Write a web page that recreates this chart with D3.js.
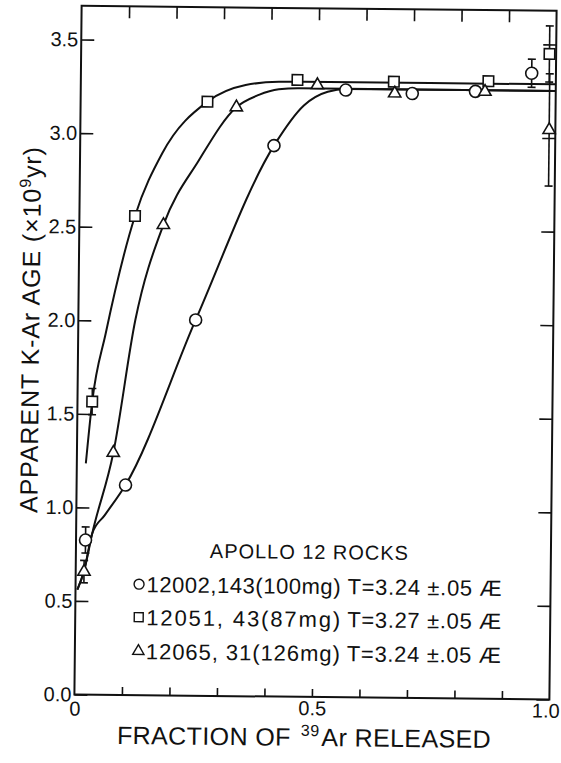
<!DOCTYPE html>
<html>
<head>
<meta charset="utf-8">
<script src="https://cdn.jsdelivr.net/npm/d3@7"></script>
<style>
  body { margin: 0; background: #fff; }
</style>
</head>
<body>
<div id="chart"></div>
<script>
// Values (fraction of 39Ar released, apparent age in 1e9 yr)
const circleFrac = [0.020, 0.103, 0.247, 0.408, 0.558, 0.698, 0.831, 0.949];
const circleAge  = [0.826, 1.122, 2.008, 2.944, 3.245, 3.230, 3.245, 3.345];
const circleErr  = [0.07, 0, 0, 0, 0, 0, 0, 0.075];

const squareFrac = [0.031, 0.117, 0.267, 0.456, 0.659, 0.858, 0.986];
const squareAge  = [1.566, 2.560, 3.175, 3.296, 3.292, 3.300, 3.449];
const squareErr  = [0.07, 0, 0, 0, 0, 0, 0.15];

const triangleFrac = [0.0175, 0.0766, 0.177, 0.328, 0.498, 0.661, 0.851, 0.987];
const triangleAge  = [0.657, 1.294, 2.514, 3.147, 3.270, 3.230, 3.244, 3.043];
const triangleErr  = [0.06, 0, 0, 0, 0, 0, 0, 0.3];

// hand drawn curves
const circleCurve = [[0.004, 0.56], [0.0175, 0.66], [0.034, 0.862], [0.06, 0.96], [0.103, 1.122],
  [0.247, 2.008], [0.408, 2.944], [0.47, 3.16], [0.52, 3.235], [0.56, 3.25], [1.0, 3.252]];
const triangleCurve = [[0.004, 0.56], [0.0175, 0.66], [0.034, 0.862], [0.0766, 1.294], [0.12, 2.004],
  [0.177, 2.514], [0.25, 2.86], [0.328, 3.147], [0.375, 3.214], [0.417, 3.245], [0.46, 3.252], [1.0, 3.252]];
const squareCurve = [[0.019, 1.236], [0.031, 1.566], [0.058, 1.932], [0.117, 2.56], [0.173, 2.897],
  [0.267, 3.175], [0.347, 3.266], [0.417, 3.285], [0.47, 3.287], [1.0, 3.287]];

const yTicks = [0, 0.5, 1.0, 1.5, 2.0, 2.5, 3.0, 3.5];
const xMinorTicks = [0.1, 0.2, 0.3, 0.4, 0.5, 0.6, 0.7, 0.8, 0.9];
const xLabelTicks = [0, 0.5, 1.0];

const legendTitle = 'APOLLO 12 ROCKS';
const legendSamples = ['12002,143(100mg)', '12051, 43(87mg)', '12065, 31(126mg)'];
const legendAges = ['T=3.24 \u00b1.05 \u00c6', 'T=3.27 \u00b1.05 \u00c6', 'T=3.24 \u00b1.05 \u00c6'];

const width = 561, height = 763;
const font = "'Liberation Sans', Arial, sans-serif";
const yMax = 3.68;

const svg = d3.select('#chart')
    .append('svg')
    .attr('width', width)
    .attr('height', height)
    .style('background', '#fff')
    .style('display', 'block')
    .attr('font-family', font);

// the scan is turned a little clockwise
const g = svg.append('g').attr('transform', 'rotate(0.6,316,353)');

const x = d3.scaleLinear().domain([0, 1]).range([78, 553]);
const y = d3.scaleLinear().domain([0, 3.5]).range([697, 42]);

// frame
g.append('rect')
    .attr('x', x(0))
    .attr('y', y(yMax))
    .attr('width', x(1) - x(0))
    .attr('height', y(0) - y(yMax))
    .attr('fill', 'none')
    .attr('stroke', '#111')
    .attr('stroke-width', 2);

function styleAxis(sel) {
    sel.select('.domain').remove();
    sel.selectAll('.tick line').attr('stroke', '#111').attr('stroke-width', 1.6);
    sel.attr('font-family', font).attr('font-size', 20);
    sel.selectAll('.tick text').attr('fill', '#111');
}

// bottom minor ticks + labels
g.append('g')
    .attr('transform', `translate(0,${y(0)})`)
    .call(d3.axisBottom(x).tickValues(xMinorTicks).tickSize(-8).tickFormat(''))
    .call(styleAxis);
g.append('g')
    .attr('transform', `translate(0,${y(0)})`)
    .call(d3.axisBottom(x).tickValues(xLabelTicks).tickSize(0).tickPadding(4)
        .tickFormat(d => d === 0 ? '0' : d3.format('.1f')(d)))
    .call(styleAxis)
    .call(s => s.selectAll('.tick text')
        .attr('dx', d => d === 1 ? -4 : 0)
        .attr('dy', d => d === 0 ? '0.86em' : '0.71em'));

// top ticks
g.append('g')
    .attr('transform', `translate(0,${y(yMax)})`)
    .call(d3.axisTop(x).tickValues(xMinorTicks).tickSize(-12).tickFormat(''))
    .call(styleAxis);

// left axis with labels
g.append('g')
    .attr('transform', `translate(${x(0)},0)`)
    .call(d3.axisLeft(y).tickValues(yTicks).tickSize(-13).tickPadding(3).tickFormat(d3.format('.1f')))
    .call(styleAxis);

// right ticks
g.append('g')
    .attr('transform', `translate(${x(1)},0)`)
    .call(d3.axisRight(y).tickValues(yTicks).tickSize(-13).tickFormat(''))
    .call(styleAxis);

// curves
const line = d3.line()
    .x(d => x(d[0]))
    .y(d => y(d[1]))
    .curve(d3.curveMonotoneX);

[circleCurve, triangleCurve, squareCurve].forEach(c => {
    g.append('path')
        .attr('d', line(c))
        .attr('fill', 'none')
        .attr('stroke', '#111')
        .attr('stroke-width', 2);
});

function drawSeries(fracs, ages, errs, type, size) {
    const pts = fracs.map((f, i) => ({ f: f, a: ages[i], e: errs[i] }));
    const withErr = pts.filter(d => d.e > 0);
    const eg = g.append('g').attr('stroke', '#111').attr('stroke-width', 1.6);

    eg.selectAll('.bar')
        .data(withErr)
        .enter()
        .append('line')
        .attr('x1', d => x(d.f))
        .attr('x2', d => x(d.f))
        .attr('y1', d => y(d.a - d.e))
        .attr('y2', d => y(d.a + d.e));

    [-1, 1].forEach(s => {
        eg.selectAll(null)
            .data(withErr)
            .enter()
            .append('line')
            .attr('x1', d => x(d.f) - 4)
            .attr('x2', d => x(d.f) + 4)
            .attr('y1', d => y(d.a + s * d.e))
            .attr('y2', d => y(d.a + s * d.e));
    });

    g.append('g').selectAll('path')
        .data(pts)
        .enter()
        .append('path')
        .attr('d', d3.symbol().type(type).size(size))
        .attr('transform', d => `translate(${x(d.f)},${y(d.a)})`)
        .attr('fill', '#fff')
        .attr('stroke', '#111')
        .attr('stroke-width', 1.6);
}

drawSeries(circleFrac, circleAge, circleErr, d3.symbolCircle, 113);
drawSeries(squareFrac, squareAge, squareErr, d3.symbolSquare, 110);
drawSeries(triangleFrac, triangleAge, triangleErr, d3.symbolTriangle, 65);

// legend
const legend = g.append('g').attr('fill', '#111');
legend.append('text')
    .attr('x', 212)
    .attr('y', 559)
    .attr('font-size', 20)
    .attr('textLength', 198)
    .text(legendTitle);

const legendTypes = [d3.symbolCircle, d3.symbolSquare, d3.symbolTriangle];
const legendSizes = [78, 80, 55];
const rowY = [586, 619, 653];

legendSamples.forEach((s, i) => {
    legend.append('path')
        .attr('d', d3.symbol().type(legendTypes[i]).size(legendSizes[i]))
        .attr('transform', `translate(141.5,${rowY[i]})`)
        .attr('fill', '#fff')
        .attr('stroke', '#111')
        .attr('stroke-width', 1.4);
    legend.append('text')
        .attr('x', 149)
        .attr('y', rowY[i] + 8)
        .attr('font-size', 22)
        .attr('textLength', 194)
        .text(s);
    legend.append('text')
        .attr('x', 350)
        .attr('y', rowY[i] + 8)
        .attr('font-size', 22)
        .attr('textLength', 154)
        .text(legendAges[i]);
});

// axis titles
const titles = g.append('g').attr('fill', '#111');
const xTitle = titles.append('text')
    .attr('x', 121)
    .attr('y', 746)
    .attr('font-size', 25)
    .attr('letter-spacing', 0.4);
xTitle.append('tspan').text('FRACTION OF');
xTitle.append('tspan').attr('dx', 10).attr('dy', -10).attr('font-size', 16).text('39');
xTitle.append('tspan').attr('dx', 2).attr('dy', 10).text('Ar RELEASED');

const yTitle = titles.append('text')
    .attr('transform', 'translate(39,333) rotate(-90)')
    .attr('text-anchor', 'middle')
    .attr('font-size', 25)
    .attr('textLength', 366);
yTitle.append('tspan').text('APPARENT K-Ar AGE (\u00d710');
yTitle.append('tspan').attr('dy', -10).attr('font-size', 16).text('9');
yTitle.append('tspan').attr('dy', 10).text('yr)');
</script>
</body>
</html>
